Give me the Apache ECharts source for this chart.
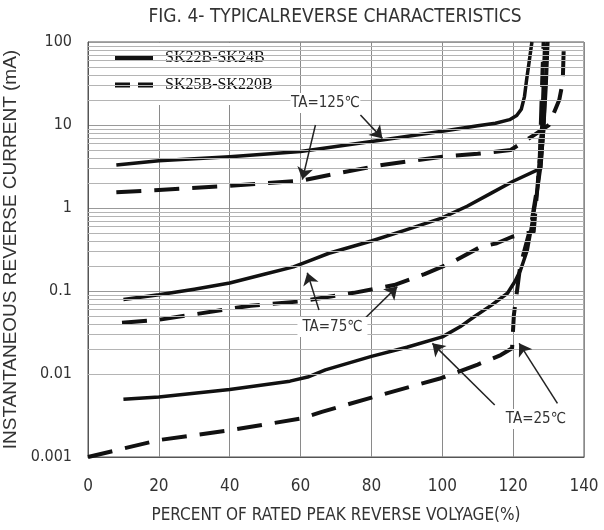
<!DOCTYPE html>
<html><head><meta charset="utf-8">
<script src="https://cdn.jsdelivr.net/npm/echarts@6/dist/echarts.min.js"></script>
<style>html,body{margin:0;padding:0;background:#fff}#c{width:604px;height:530px}</style>
</head><body><div id="c"></div>
<script>
// ---- data ----
const xTicks = [0, 20, 40, 60, 80, 100, 120, 140];
const yTickLabels = ['0.001', '0.01', '0.1', '1', '10', '100'];
const seriesNames = ['SK22B-SK24B', 'SK25B-SK220B'];

const solid125 = [[8,3.3],[20,3.7],[40,4.15],[60,4.8],[70,5.5],[83,6.6],[100,8.4],[110,9.8],[115,10.5],[119,11.6],[121,13],[122.3,15.5],[123.2,22],[123.8,35],[124.5,57],[125.3,100]];
const dashed125 = [[8,1.55],[20,1.65],[40,1.85],[60,2.13],[70,2.6],[83,3.3],[100,4.15],[110,4.5],[119.3,5.0],[126,7.6],[130.1,10],[133,20],[134,33],[134.3,90]];
const solid75 = [[10,0.079],[20,0.09],[30,0.105],[40,0.125],[50,0.16],[58,0.195],[63,0.235],[68,0.285],[80,0.4],[90,0.55],[99.6,0.75],[107,1.05],[113.7,1.5],[120,2.1],[127.8,3.0],[128.6,9],[129.3,30],[129.8,100]];
const dashed75 = [[9.6,0.0415],[20,0.045],[45.9,0.0665],[60,0.075],[75,0.095],[86.4,0.118],[95,0.16],[102.3,0.216],[110.8,0.34],[115.4,0.376],[119.7,0.45],[125.8,0.52],[127.5,3.8],[128.3,46],[128.6,100]];
const solid25 = [[10,0.00495],[20,0.0053],[40,0.0065],[57,0.0082],[62,0.0092],[67,0.0112],[80,0.0163],[90,0.021],[100,0.028],[105,0.037],[109,0.049],[114,0.068],[118.4,0.094],[120.5,0.13],[122.1,0.179],[124,0.312],[125,0.54],[126.5,1.3],[127.7,3.0],[128.6,8.7],[129.6,100]];
const dashed25 = [[0,0.001],[20,0.0016],[40,0.0021],[60,0.0029],[66,0.0035],[80,0.0052],[99.6,0.0089],[110,0.013],[116.5,0.0169],[119.7,0.0204],[120.2,0.051],[122,0.2],[125,0.6],[127,2],[128.2,10],[129,100]];

const annotLabels = ['TA=125℃', 'TA=75℃', 'TA=25℃'];
const annotLabelAt = [[67,18.4],[69,0.0368],[126.4,0.00287]];
const arrowTail = [[76.9,13.2],[64.2,10],[65.2,0.059],[78.4,0.048],[114.8,0.00424],[132.5,0.00443]];
const arrowTip  = [[83.1,6.9],[60.5,2.2],[61.9,0.166],[87.3,0.113],[97.2,0.0234],[121.7,0.0234]];

// ---- chart ----
const NARROW = "'Liberation Sans Narrow','Arial Narrow','DejaVu Sans Condensed',sans-serif";
const minorVals = [];
for (let e = -3; e < 2; e++) for (let m = 2; m <= 9; m++) minorVals.push(+(m * Math.pow(10, e)).toPrecision(3));

function curve(name, data, dashed) {
  return {
    type: 'line', name: name, data: data, symbol: 'none',
    smooth: false, z: 3, silent: true,
    itemStyle: { color: '#111' },
    lineStyle: { color: '#111', width: dashed ? 4 : 3.5, type: dashed ? [25, 13] : 'solid', cap: 'butt', join: 'round' }
  };
}

const chart = echarts.init(document.getElementById('c'), null, { renderer: 'canvas' });
chart.setOption({
  animation: false,
  backgroundColor: '#fff',
  title: {
    text: 'FIG. 4- TYPICALREVERSE CHARACTERISTICS',
    left: 330, top: 3, textAlign: 'center',
    textStyle: { fontFamily: NARROW, fontSize: 19, fontWeight: 'normal', color: '#333' }
  },
  grid: { left: 88, right: 20, top: 42, bottom: 73, outerBoundsMode: 'none', containLabel: false, show: true, borderColor: '#555', borderWidth: 1 },
  legend: {
    left: 89, top: 43, orient: 'vertical',
    backgroundColor: '#fff',
    padding: [6, 12, 11, 26],
    itemWidth: 38, itemHeight: 5, itemGap: 9,
    textStyle: { fontFamily: "'Liberation Serif','Times New Roman',serif", fontSize: 16, color: '#111', padding: [0, 0, 0, 7], lineHeight: 18 },
    data: [
      { name: seriesNames[0], icon: 'path://M0,0h38v5h-38z', itemStyle: { color: '#111' } },
      { name: seriesNames[1], icon: 'path://M0,0h15v5h-15z M23,0h15v5h-15z', itemStyle: { color: '#111' } }
    ]
  },
  xAxis: {
    type: 'value', min: xTicks[0], max: xTicks[xTicks.length - 1], interval: 20,
    name: 'PERCENT OF RATED PEAK REVERSE VOLYAGE(%)', nameLocation: 'middle', nameGap: 50,
    nameTextStyle: { fontFamily: NARROW, fontSize: 17, color: '#333' },
    axisLine: { lineStyle: { color: '#555' } },
    axisTick: { show: false },
    axisLabel: { margin: 21, fontFamily: NARROW, fontSize: 17, color: '#333' },
    splitLine: { show: true, lineStyle: { color: '#8a8a8a', width: 1 } }
  },
  yAxis: {
    type: 'log', logBase: 10, min: 0.001, max: 100,
    name: 'INSTANTANEOUS REVERSE CURRENT (mA)', nameLocation: 'middle', nameGap: 55, nameRotate: 90,
    nameTextStyle: { fontFamily: "'Liberation Sans',Arial,sans-serif", fontSize: 19, color: '#333' },
    axisLine: { lineStyle: { color: '#555' } },
    axisTick: { show: false },
    axisLabel: {
      margin: 16, fontFamily: NARROW, fontSize: 16, color: '#333',
      formatter: function (v) { const i = Math.round(Math.log10(v)) + 3; return yTickLabels[i] !== undefined ? yTickLabels[i] : ''; }
    },
    splitLine: { show: true, lineStyle: { color: '#999', width: 1 } }
  },
  series: [
    {
      type: 'line', name: 'grid-minor', data: [], z: 1, silent: true,
      markLine: {
        silent: true, symbol: 'none', animation: false,
        label: { show: false },
        lineStyle: { color: '#b4b4b4', width: 1, type: 'solid' },
        emphasis: { disabled: true },
        data: minorVals.map(v => ({ yAxis: v }))
      }
    },
    curve(seriesNames[0], solid125, false),
    curve(seriesNames[1], dashed125, true),
    curve(seriesNames[0], solid75, false),
    curve(seriesNames[1], dashed75, true),
    curve(seriesNames[0], solid25, false),
    curve(seriesNames[1], dashed25, true),
    {
      type: 'line', name: 'annotations', data: [], z: 5, silent: true,
      markLine: {
        silent: true, animation: false,
        symbol: ['none', 'arrow'], symbolSize: 12,
        label: { show: false },
        emphasis: { disabled: true },
        lineStyle: { color: '#222', width: 1.5, type: 'solid' },
        itemStyle: { color: '#222' },
        data: arrowTail.map((t, i) => [{ coord: t }, { coord: arrowTip[i] }])
      },
      markPoint: {
        silent: true, animation: false,
        symbol: 'rect', symbolSize: [70, 20],
        itemStyle: { color: '#fff' },
        label: { show: true, position: 'inside', formatter: '{b}', color: '#333', fontFamily: NARROW, fontSize: 15 },
        data: annotLabels.map((t, i) => ({ name: t, coord: annotLabelAt[i] }))
      }
    }
  ]
});
</script>
</body></html>
